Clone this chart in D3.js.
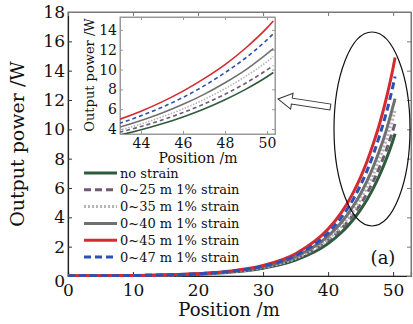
<!DOCTYPE html>
<html><head><meta charset="utf-8">
<script src="https://cdn.jsdelivr.net/npm/d3@7"></script>
<style>body{margin:0;background:#fff}svg{display:block}text{font-family:"DejaVu Serif",serif;fill:#111}</style>
</head><body><svg id="c" width="413" height="324"></svg>
<script>
const positions = [0, 10, 20, 25, 30, 35, 40, 42, 43, 44, 45, 46, 47, 48, 49, 50, 50.3];
const noStrain = [0.007, 0.030, 0.125, 0.26, 0.53, 1.08, 2.21, 2.95, 3.4, 3.92, 4.53, 5.22, 6.03, 6.96, 8.03, 9.27, 9.7];
const strain25 = [0.008, 0.035, 0.143, 0.29, 0.59, 1.19, 2.42, 3.21, 3.7, 4.26, 4.91, 5.66, 6.52, 7.51, 8.65, 9.97, 10.4];
const strain35 = [0.007, 0.032, 0.137, 0.285, 0.59, 1.21, 2.52, 3.37, 3.9, 4.51, 5.22, 6.03, 6.98, 8.07, 9.34, 10.8, 11.3];
const strain40 = [0.008, 0.035, 0.15, 0.31, 0.64, 1.32, 2.72, 3.63, 4.2, 4.86, 5.61, 6.49, 7.50, 8.67, 10.0, 11.6, 12.1];
const strain45 = [0.008, 0.036, 0.16, 0.34, 0.72, 1.52, 3.2, 4.31, 5.0, 5.80, 6.74, 7.82, 9.08, 10.5, 12.2, 14.2, 14.9];
const strain47 = [0.008, 0.034, 0.15, 0.32, 0.67, 1.40, 2.94, 3.97, 4.6, 5.34, 6.20, 7.19, 8.35, 9.69, 11.2, 13.0, 13.6];
const seriesNames = ["no strain", "0~25 m 1% strain", "0~35 m 1% strain", "0~40 m 1% strain", "0~45 m 1% strain", "0~47 m 1% strain"];
const mainXTicks = [0, 10, 20, 30, 40, 50];
const mainYTicks = [0, 2, 4, 6, 8, 10, 12, 14, 16, 18];
const insetXTicks = [44, 46, 48, 50];
const insetYTicks = [4, 6, 8, 10, 12, 14];

const seriesData = [noStrain, strain25, strain35, strain40, strain45, strain47];
const styles = [
  {c:"#2f5b3d", d:null, dm:null},
  {c:"#6f5a73", d:"7,4", dm:"4,3"},
  {c:"#b4b4b4", d:"2,2", dm:"1.5,1.5"},
  {c:"#707070", d:null, dm:null},
  {c:"#d42a30", d:null, dm:null},
  {c:"#2d50b5", d:"7,4", dm:"4,3"}
];

const svg = d3.select("#c");
const x = d3.scaleLinear().domain([0, 52.75]).range([68, 411]);
const y = d3.scaleLinear().domain([0, 18]).range([276, 12]);

svg.append("clipPath").attr("id","mclip").append("rect")
  .attr("x",68).attr("y",11).attr("width",343).attr("height",266);

// frame
svg.append("rect").attr("x",68).attr("y",12).attr("width",343).attr("height",264)
  .attr("fill","none").attr("stroke","#777").attr("stroke-width",1);

// axes
const gx = svg.append("g").attr("transform","translate(0,276)")
  .call(d3.axisBottom(x).tickValues(mainXTicks).tickSize(-4).tickPadding(8).tickFormat(d3.format("d")));
const gy = svg.append("g").attr("transform","translate(68,0)")
  .call(d3.axisLeft(y).tickValues(mainYTicks).tickSize(-4).tickPadding(3).tickFormat(d3.format("d")));
const gxt = svg.append("g").attr("transform","translate(0,12)")
  .call(d3.axisTop(x).tickValues(mainXTicks).tickSize(-4).tickFormat(""));
const gyr = svg.append("g").attr("transform","translate(411,0)")
  .call(d3.axisRight(y).tickValues(mainYTicks).tickSize(-4).tickFormat(""));
[gx,gy].forEach(g=>{g.select(".domain").attr("stroke","#222").attr("stroke-width",1.2);
  g.selectAll("line").attr("stroke","#333");
  g.selectAll("text").style("font-size","17px").attr("fill","#111");});
[gxt,gyr].forEach(g=>{g.select(".domain").attr("stroke","#777");g.selectAll("line").attr("stroke","#777");});
gy.selectAll(".tick text").filter(d=>d===0).attr("dy","0.6em");

svg.append("text").attr("x",229).attr("y",316).attr("text-anchor","middle")
  .style("font-size","18px").text("Position /m");
svg.append("text").attr("transform","translate(24,144) rotate(-90)").attr("text-anchor","middle")
  .style("font-size","19px").text("Output power /W");

// main curves
const line = d3.line().x(d=>x(d[0])).y(d=>y(d[1])).curve(d3.curveMonotoneX);
const mg = svg.append("g").attr("clip-path","url(#mclip)");
seriesData.forEach((s,i)=>{
  mg.append("path").datum(positions.map((p,j)=>[p,s[j]]))
    .attr("d",line).attr("fill","none").attr("stroke",styles[i].c)
    .attr("stroke-width",3).attr("stroke-dasharray",styles[i].d);
});

// ellipse and arrow
svg.append("ellipse").attr("cx",372).attr("cy",129).attr("rx",38).attr("ry",97)
  .attr("fill","none").attr("stroke","#111").attr("stroke-width",1.2);
svg.append("path").attr("transform","translate(278,99) rotate(8.7)")
  .attr("d","M0,0 L14,-8 L14,-3 L53,-3 L53,3 L14,3 L14,8 Z")
  .attr("fill","#fff").attr("stroke","#333").attr("stroke-width",1);
svg.append("text").attr("x",383).attr("y",264).attr("text-anchor","middle")
  .style("font-size","18px").text("(a)");

// legend
const lg = svg.append("g");
seriesNames.forEach((n,i)=>{
  const yy = 173 + i*16.8;
  lg.append("line").attr("x1",84).attr("x2",117).attr("y1",yy).attr("y2",yy)
    .attr("stroke",styles[i].c).attr("stroke-width",3).attr("stroke-dasharray",styles[i].d);
  lg.append("text").attr("x",120).attr("y",yy).attr("dy","0.35em")
    .style("font-size","13px").text(n);
});

// inset
const ix = d3.scaleLinear().domain([43, 50.38]).range([120, 275]);
const iy = d3.scaleLinear().domain([3.5, 15.3]).range([134, 17]);
svg.append("rect").attr("x",120).attr("y",17).attr("width",155).attr("height",117)
  .attr("fill","#fff").attr("stroke","#999").attr("stroke-width",1);
svg.append("clipPath").attr("id","iclip").append("rect")
  .attr("x",120).attr("y",17).attr("width",155).attr("height",117);
const igx = svg.append("g").attr("transform","translate(0,134)")
  .call(d3.axisBottom(ix).tickValues(insetXTicks).tickSize(-3).tickPadding(4).tickFormat(d3.format("d")));
const igy = svg.append("g").attr("transform","translate(120,0)")
  .call(d3.axisLeft(iy).tickValues(insetYTicks).tickSize(-3).tickPadding(3).tickFormat(d3.format("d")));
const igxt = svg.append("g").attr("transform","translate(0,17)")
  .call(d3.axisTop(ix).tickValues(insetXTicks).tickSize(-3).tickFormat(""));
const igyr = svg.append("g").attr("transform","translate(275,0)")
  .call(d3.axisRight(iy).tickValues(insetYTicks).tickSize(-3).tickFormat(""));
[igx,igy,igxt,igyr].forEach(g=>{g.select(".domain").attr("stroke","#999");
  g.selectAll("line").attr("stroke","#999");
  g.selectAll("text").style("font-size","14px").attr("fill","#111");});
svg.append("text").attr("x",198).attr("y",163).attr("text-anchor","middle")
  .style("font-size","14px").text("Position /m");
svg.append("text").attr("transform","translate(94,75) rotate(-90)").attr("text-anchor","middle")
  .style("font-size","13px").text("Output power /W");
const iline = d3.line().x(d=>ix(d[0])).y(d=>iy(d[1])).curve(d3.curveMonotoneX);
const ig = svg.append("g").attr("clip-path","url(#iclip)");
seriesData.forEach((s,i)=>{
  const pts = positions.map((p,j)=>[p,s[j]]).filter(d=>d[0]>=42);
  ig.append("path").datum(pts).attr("d",iline).attr("fill","none")
    .attr("stroke",styles[i].c).attr("stroke-width",1.6).attr("stroke-dasharray",styles[i].dm);
});
</script></body></html>
